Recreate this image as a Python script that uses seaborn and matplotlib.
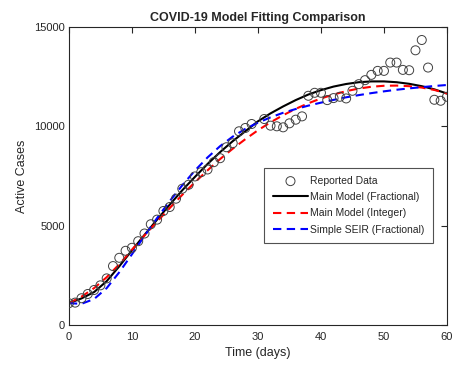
import matplotlib
matplotlib.use("Agg")
import matplotlib.pyplot as plt
import seaborn as sns
import pandas as pd

# ----------------------------
# Reported data
# ----------------------------
data_days = list(range(0, 30)) + list(range(31, 61))
data_cases = [1090, 1120, 1340, 1555, 1755, 1990, 2340, 2960, 3377, 3730,
              3880, 4213, 4600, 5067, 5300, 5735, 5935, 6354, 6855, 7056,
              7474, 7690, 7825, 8193, 8393, 8945, 9146, 9748, 9915, 10116,
              10366, 10032, 9999, 9948, 10149, 10333, 10500, 11537, 11687, 11687,
              11319, 11420, 11487, 11403, 11788, 12122, 12323, 12590, 12791, 12791,
              13209, 13209, 12841, 12824, 13827, 14346, 12958, 11336, 11286, 11487]

# model curves sampled every 2 days
model_days = list(range(0, 61, 2))
main_frac = [1090, 1330, 1650, 2200, 2950, 3750, 4530, 5300, 6050, 6780,
             7450, 8100, 8700, 9250, 9750, 10250, 10650, 11000, 11320, 11600,
             11820, 12000, 12130, 12220, 12260, 12260, 12220, 12140, 12020, 11860,
             11650]
main_int = [1090, 1420, 1850, 2400, 3050, 3780, 4500, 5200, 5880, 6550,
            7180, 7780, 8350, 8870, 9350, 9800, 10200, 10560, 10880, 11160,
            11400, 11600, 11770, 11900, 11990, 12040, 12050, 12020, 11950, 11830,
            11650]
seir_frac = [1090, 1060, 1300, 1850, 2650, 3550, 4480, 5380, 6230, 7030,
             7770, 8430, 9000, 9480, 9870, 10180, 10450, 10680, 10870, 11040,
             11190, 11330, 11460, 11570, 11670, 11760, 11840, 11910, 11970, 12030,
             12080]

data_frame = pd.DataFrame({"Day": data_days, "Cases": data_cases})
model_frame = pd.DataFrame({"Day": model_days, "Frac": main_frac,
                            "Int": main_int, "SEIR": seir_frac})

sns.set_style("white")
plt.rcParams['font.family'] = ['Liberation Sans', 'DejaVu Sans']

fig = plt.figure(figsize=(4.75, 3.65), dpi=100)
ax = fig.add_axes([0.145, 0.11, 0.796, 0.816])

sns.scatterplot(data=data_frame, x="Day", y="Cases", ax=ax, marker="o",
                s=42, facecolors="none", edgecolor="#404040", linewidth=0.7,
                label="Reported Data", zorder=3)
sns.lineplot(data=model_frame, x="Day", y="Frac", ax=ax, color="black",
             linewidth=1.5, label="Main Model (Fractional)")
sns.lineplot(data=model_frame, x="Day", y="Int", ax=ax, color="#ff0000",
             linewidth=1.5, linestyle=(0, (4, 2.6)), label="Main Model (Integer)")
sns.lineplot(data=model_frame, x="Day", y="SEIR", ax=ax, color="#0000ff",
             linewidth=1.5, linestyle=(0, (4, 2.6)), label="Simple SEIR (Fractional)")

ax.set_xlim(0, 60)
ax.set_ylim(0, 15000)
ax.set_xticks(range(0, 61, 10))
ax.set_yticks(range(0, 15001, 5000))
ax.tick_params(direction="in", length=4, width=0.8, top=True, right=True,
               labelsize=8, colors="#262626", pad=3)
ax.tick_params(axis="x", pad=5)
for sp in ax.spines.values():
    sp.set_color("#262626")
    sp.set_linewidth(0.8)

ax.set_title("COVID-19 Model Fitting Comparison", fontsize=9, fontweight="bold", pad=4)
ax.set_xlabel("Time (days)", fontsize=9, labelpad=4)
ax.set_ylabel("Active Cases", fontsize=9, labelpad=4)

leg = ax.legend(loc="lower right", bbox_to_anchor=(0.963, 0.275), fontsize=7.5,
                frameon=True, fancybox=False, handlelength=3.4, borderpad=0.8,
                labelspacing=0.6, handletextpad=0.2, borderaxespad=0)
leg.get_frame().set_edgecolor("#262626")
leg.get_frame().set_linewidth(0.8)

fig.savefig("out.png", dpi=100)
